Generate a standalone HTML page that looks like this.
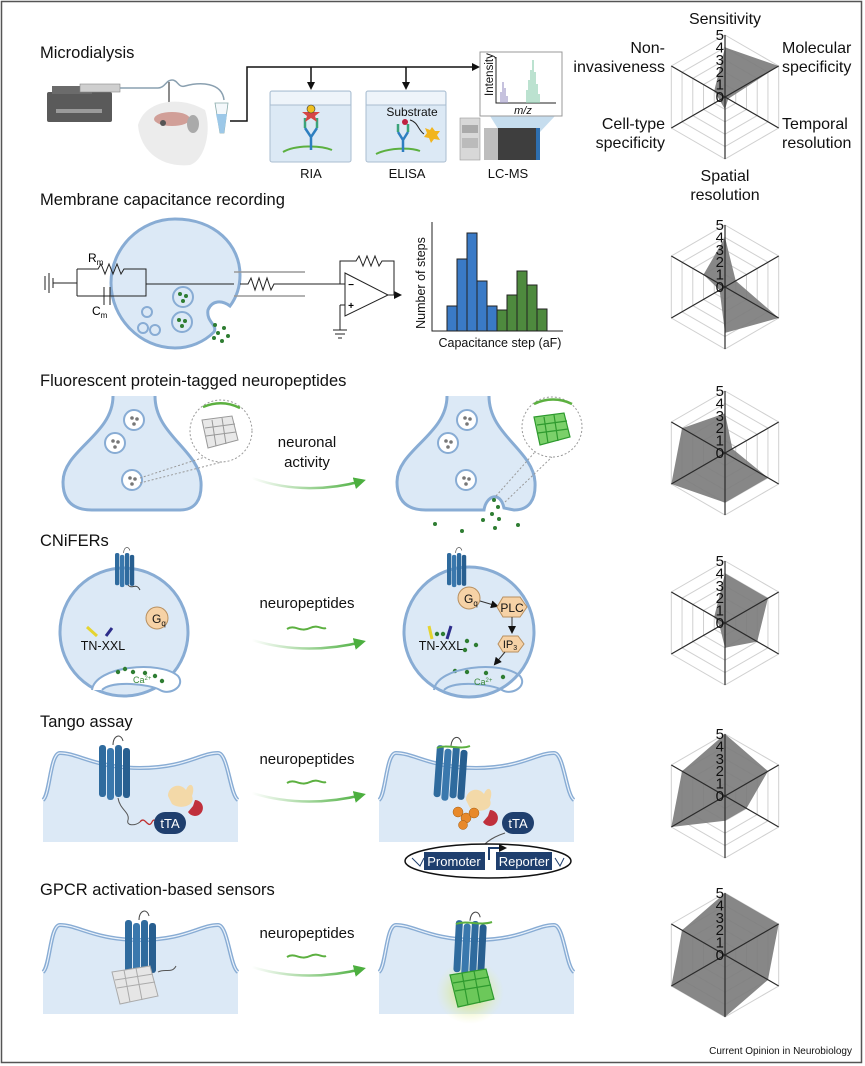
<!DOCTYPE html>
<html><head><meta charset="utf-8"><style>
html,body{margin:0;padding:0;background:#fff}
svg{display:block;font-family:"Liberation Sans",Arial,sans-serif}
</style></head><body>
<svg width="865" height="1066" viewBox="0 0 865 1066" xmlns="http://www.w3.org/2000/svg">
<defs>
<linearGradient id="ga" x1="0" x2="1" y1="0" y2="0"><stop offset="0" stop-color="#4caf3f" stop-opacity="0"/><stop offset="1" stop-color="#4caf3f"/></linearGradient>
<radialGradient id="glow"><stop offset="0" stop-color="#c8e04a" stop-opacity="0.9"/><stop offset="1" stop-color="#e8f0a0" stop-opacity="0"/></radialGradient>
<marker id="ah" markerWidth="8" markerHeight="8" refX="6" refY="4" orient="auto" markerUnits="userSpaceOnUse"><path d="M0,0 L8,4 L0,8 Z" fill="#111"/></marker>
<marker id="gh" markerWidth="12" markerHeight="12" refX="8" refY="6" orient="auto" markerUnits="userSpaceOnUse"><path d="M0,0 L12,6 L0,12 Z" fill="#4caf3f"/></marker>
<g id="rec">
<rect x="0" y="0" width="7" height="52" rx="3" fill="#2f6b9e"/>
<rect x="8" y="3" width="7" height="52" rx="3" fill="#3a78ad"/>
<rect x="16" y="0" width="7" height="52" rx="3" fill="#2f6b9e"/>
<rect x="24" y="3" width="7" height="50" rx="3" fill="#285f90"/>
<path d="M14,0 C14,-10 22,-12 24,-4" fill="none" stroke="#444" stroke-width="1"/>
</g>
<g id="grid">
<g fill="none" stroke="#d0d0d0" stroke-width="1">
<polygon points="0,-12.4 10.74,-6.2 10.74,6.2 0,12.4 -10.74,6.2 -10.74,-6.2"/>
<polygon points="0,-24.8 21.48,-12.4 21.48,12.4 0,24.8 -21.48,12.4 -21.48,-12.4"/>
<polygon points="0,-37.2 32.22,-18.6 32.22,18.6 0,37.2 -32.22,18.6 -32.22,-18.6"/>
<polygon points="0,-49.6 42.95,-24.8 42.95,24.8 0,49.6 -42.95,24.8 -42.95,-24.8"/>
<polygon points="0,-62 53.69,-31 53.69,31 0,62 -53.69,31 -53.69,-31"/>
</g>
</g>
<g id="axes" stroke="#2a2a2a" stroke-width="1.2">
<line x1="0" y1="-62" x2="0" y2="62"/><line x1="-53.69" y1="-31" x2="53.69" y2="31"/><line x1="53.69" y1="-31" x2="-53.69" y2="31"/>
</g>
<g id="nums" font-size="15" text-anchor="end" fill="#111">
<text x="-1" y="-57">5</text><text x="-1" y="-44.6">4</text><text x="-1" y="-32.2">3</text><text x="-1" y="-19.8">2</text><text x="-1" y="-7.4">1</text><text x="-1" y="5">0</text>
</g>
<g id="panel">
<path d="M43,800 C50,795 50,753 60,753 C78,753 95,768 140,768 C185,768 200,753 218,753 C228,753 230,795 238,800 L238,842 L43,842 Z" fill="#dce9f6"/>
<path d="M43,800 C50,795 50,753 60,753 C78,753 95,768 140,768 C185,768 200,753 218,753 C228,753 230,795 238,800" fill="none" stroke="#88acd4" stroke-width="4"/>
<path d="M43,800 C50,795 50,753 60,753 C78,753 95,768 140,768 C185,768 200,753 218,753 C228,753 230,795 238,800" fill="none" stroke="#eaf2fb" stroke-width="1.2"/>
</g>
</defs>
<rect x="1.5" y="1.5" width="860" height="1061" fill="none" stroke="#555" stroke-width="1.5"/>

<!-- Titles -->
<g font-size="16.5" fill="#111">
<text x="40" y="58">Microdialysis</text>
<text x="40" y="205">Membrane capacitance recording</text>
<text x="40" y="386">Fluorescent protein-tagged neuropeptides</text>
<text x="40" y="546">CNiFERs</text>
<text x="40" y="727">Tango assay</text>
<text x="40" y="895">GPCR activation-based sensors</text>
</g>

<!-- ===== Microdialysis ===== -->
<rect x="47" y="92" width="65" height="30" rx="2" fill="#5a5a5a"/>
<rect x="52" y="86" width="40" height="8" fill="#6b6b6b"/>
<rect x="80" y="84" width="40" height="8" fill="#cfcfcf" stroke="#888" stroke-width="0.6"/>
<rect x="56" y="109" width="46" height="4" fill="#9a9a9a"/>
<path d="M120,88 L158,88 C165,88 166,80 172,80 C178,80 178,88 185,86 C200,82 222,82 224,100" fill="none" stroke="#8aa0b0" stroke-width="1.5"/>
<line x1="169" y1="82" x2="169" y2="108" stroke="#666" stroke-width="1.5"/>
<path d="M138,125 C145,100 180,95 205,110 C212,130 205,160 190,165 C160,168 140,150 138,125Z" fill="#ececec"/>
<ellipse cx="172" cy="119" rx="18" ry="7" fill="#d19f98"/>
<ellipse cx="193" cy="124" rx="6" ry="9" fill="#aaa"/>
<circle cx="163" cy="123" r="3" fill="#555"/>
<path d="M215,103 L228,103 L224,133 L220,133 Z" fill="#f4f8fb" stroke="#8aa" stroke-width="0.8"/>
<path d="M216,114 L227,114 L224,133 L220,133 Z" fill="#9cc8e8"/>
<path d="M230,121 L247,121 L247,67 L478,67" fill="none" stroke="#111" stroke-width="1.5" marker-end="url(#ah)"/>
<line x1="311" y1="67" x2="311" y2="88" stroke="#111" stroke-width="1.5" marker-end="url(#ah)"/>
<line x1="406" y1="67" x2="406" y2="88" stroke="#111" stroke-width="1.5" marker-end="url(#ah)"/>
<rect x="270" y="91" width="81" height="71" rx="2" fill="#dce9f5" stroke="#aabdd0"/>
<rect x="271" y="92" width="79" height="13" fill="#eef4fa"/>
<line x1="270" y1="105" x2="351" y2="105" stroke="#aabdd0"/>
<path d="M283,152 C295,145 320,145 332,150" fill="none" stroke="#5cb040" stroke-width="2"/>
<path d="M311,150 L311,137 M311,137 L305,128 M311,137 L317,128" stroke="#2e7fc0" stroke-width="2.5" fill="none"/>
<path d="M305,128 L305,118 M317,128 L317,118" stroke="#3aa37a" stroke-width="2.5"/>
<path d="M311,106 L314,112 L320,112 L315,116 L317,122 L311,118 L305,122 L307,116 L302,112 L308,112Z" fill="#d64545"/>
<circle cx="311" cy="109" r="4" fill="#f0c020" stroke="#333" stroke-width="0.6"/>
<text x="311" y="178" font-size="13" text-anchor="middle" fill="#111">RIA</text>
<rect x="366" y="91" width="80" height="71" rx="2" fill="#dce9f5" stroke="#aabdd0"/>
<rect x="367" y="92" width="78" height="13" fill="#eef4fa"/>
<line x1="366" y1="105" x2="446" y2="105" stroke="#aabdd0"/>
<text x="412" y="116" font-size="12" text-anchor="middle" fill="#111">Substrate</text>
<path d="M376,154 C388,148 410,147 420,151" fill="none" stroke="#5cb040" stroke-width="2"/>
<path d="M403,152 L403,140 L398,132 M403,140 L408,132" stroke="#2e7fc0" stroke-width="2.5" fill="none"/>
<path d="M398,132 L398,124 M408,132 L408,124" stroke="#3aa37a" stroke-width="2.5"/>
<circle cx="405" cy="122" r="3" fill="#c02040"/>
<path d="M410,120 C418,122 418,130 424,134" fill="none" stroke="#222" stroke-width="1"/>
<path d="M432,127 L435,131 L440,131 L437,135 L440,140 L434,139 L431,143 L429,138 L424,137 L427,133 L425,128 L430,130Z" fill="#f2b51c"/>
<text x="407" y="178" font-size="13" text-anchor="middle" fill="#111">ELISA</text>
<path d="M490,116 L555,116 L540,132 L500,132 Z" fill="#b8d4ea" opacity="0.8"/>
<rect x="460" y="118" width="20" height="42" fill="#d8d8d8" stroke="#999" stroke-width="0.6"/>
<rect x="462" y="125" width="16" height="8" fill="#aaa"/>
<rect x="462" y="138" width="16" height="10" fill="#bbb"/>
<rect x="484" y="128" width="56" height="32" fill="#3e3e3e"/>
<rect x="484" y="128" width="14" height="32" fill="#bdbdbd"/>
<rect x="536" y="128" width="4" height="32" fill="#2e6fb0"/>
<rect x="480" y="52" width="82" height="64" fill="#fff" stroke="#999"/>
<path d="M496,57 L496,103 L556,103" fill="none" stroke="#222" stroke-width="1"/>
<text transform="translate(493,96) rotate(-90)" font-size="11.5" fill="#111">Intensity</text>
<text x="523" y="114" font-size="11" font-style="italic" text-anchor="middle" fill="#111">m/z</text>
<g stroke="#a09ac8" stroke-width="1.2"><line x1="501" y1="103" x2="501" y2="92"/><line x1="503" y1="103" x2="503" y2="82"/><line x1="505" y1="103" x2="505" y2="88"/><line x1="507" y1="103" x2="507" y2="96"/></g>
<g stroke="#8fcfb0" stroke-width="1.2"><line x1="527" y1="103" x2="527" y2="90"/><line x1="529" y1="103" x2="529" y2="80"/><line x1="531" y1="103" x2="531" y2="70"/><line x1="533" y1="103" x2="533" y2="60"/><line x1="535" y1="103" x2="535" y2="72"/><line x1="537" y1="103" x2="537" y2="84"/><line x1="539" y1="103" x2="539" y2="94"/></g>
<text x="508" y="178" font-size="13" text-anchor="middle" fill="#111">LC-MS</text>

<!-- ===== Membrane capacitance ===== -->
<path d="M175,219 C215,219 240,245 240,275 C240,288 236,298 230,306 C222,300 212,300 208,310 C206,322 218,325 214,332 C204,342 190,348 175,348 C140,348 111,318 111,283 C111,248 140,219 175,219Z" fill="#dce9f6" stroke="#88acd4" stroke-width="3"/>
<g fill="none" stroke="#222" stroke-width="1">
<line x1="45" y1="276" x2="45" y2="290"/><line x1="49" y1="273" x2="49" y2="293"/><line x1="53" y1="278" x2="53" y2="288"/>
<path d="M53,283 L77,283 M77,269 L77,296 M77,269 L98,269 L101,264 L105,274 L109,264 L113,274 L117,264 L121,274 L124,269 L146,269 L146,296 L77,296 M77,296 L104,296 M104,287 L104,305 M110,287 L110,305 M110,296 L146,296 M146,284 L234,284"/>
<path d="M234,272 L305,272 M234,296 L305,296" stroke="#999" stroke-width="1.5"/>
<path d="M240,284 L248,284 L251,278 L255,290 L259,278 L263,290 L267,278 L271,290 L274,284 L345,284"/>
<path d="M345,273 L345,316 L388,295 Z" fill="#fff"/>
<path d="M388,295 L400,295" marker-end="url(#ah)"/>
<path d="M340,305 L345,305 M340,305 L340,330 M333,330 L347,330 M335,334 L345,334 M338,338 L342,338"/>
<path d="M340,284 L340,261 L356,261 L359,256 L363,266 L367,256 L371,266 L375,256 L379,266 L382,261 L394,261 L394,295"/>
</g>
<text x="351" y="288" font-size="10" text-anchor="middle" font-weight="bold">−</text>
<text x="351" y="309" font-size="10" text-anchor="middle" font-weight="bold">+</text>
<text x="88" y="262" font-size="12">R<tspan font-size="8" dy="3">m</tspan></text>
<text x="92" y="315" font-size="12">C<tspan font-size="8" dy="3">m</tspan></text>
<g fill="none" stroke="#88acd4" stroke-width="2">
<circle cx="183" cy="297" r="10"/><circle cx="182" cy="322" r="10"/>
<circle cx="147" cy="312" r="5"/><circle cx="143" cy="328" r="5"/><circle cx="155" cy="330" r="5"/>
</g>
<g fill="#2e7d32"><circle cx="180" cy="294" r="2"/><circle cx="186" cy="296" r="2"/><circle cx="183" cy="301" r="2"/><circle cx="179" cy="320" r="2"/><circle cx="185" cy="321" r="2"/><circle cx="182" cy="326" r="2"/>
<circle cx="215" cy="325" r="2"/><circle cx="224" cy="328" r="2"/><circle cx="218" cy="333" r="2"/><circle cx="228" cy="336" r="2"/><circle cx="214" cy="338" r="2"/><circle cx="222" cy="341" r="2"/></g>
<g stroke="#222" stroke-width="1">
<rect x="447" y="306" width="10" height="25" fill="#3a7ac6"/><rect x="457" y="259" width="10" height="72" fill="#3a7ac6"/><rect x="467" y="233" width="10" height="98" fill="#3a7ac6"/><rect x="477" y="281" width="10" height="50" fill="#3a7ac6"/><rect x="487" y="306" width="10" height="25" fill="#3a7ac6"/>
<rect x="497" y="310" width="10" height="21" fill="#4e8a3e"/><rect x="507" y="295" width="10" height="36" fill="#4e8a3e"/><rect x="517" y="271" width="10" height="60" fill="#4e8a3e"/><rect x="527" y="285" width="10" height="46" fill="#4e8a3e"/><rect x="537" y="309" width="10" height="22" fill="#4e8a3e"/>
<path d="M432,222 L432,331 L563,331" fill="none"/>
</g>
<text transform="translate(425,283) rotate(-90)" font-size="12.5" text-anchor="middle" fill="#111">Number of steps</text>
<text x="500" y="347" font-size="12.5" text-anchor="middle" fill="#111">Capacitance step (aF)</text>

<!-- ===== Fluorescent protein ===== -->
<path d="M113,396 C113,435 63,450 63,482 C63,500 72,510 92,510 L180,510 C195,510 202,500 201,482 C199,450 155,435 155,396" fill="#dce9f6" stroke="#88acd4" stroke-width="3"/>
<g fill="#fff" stroke="#88acd4" stroke-width="2"><circle cx="134" cy="420" r="10"/><circle cx="115" cy="443" r="10"/><circle cx="132" cy="480" r="10"/>
<circle cx="467" cy="420" r="10"/><circle cx="448" cy="443" r="10"/><circle cx="466" cy="480" r="10"/></g>
<g fill="#777"><circle cx="132" cy="418" r="1.8"/><circle cx="137" cy="419" r="1.8"/><circle cx="134" cy="424" r="1.8"/><circle cx="113" cy="441" r="1.8"/><circle cx="118" cy="442" r="1.8"/><circle cx="115" cy="447" r="1.8"/><circle cx="130" cy="478" r="1.8"/><circle cx="135" cy="479" r="1.8"/><circle cx="132" cy="484" r="1.8"/>
<circle cx="465" cy="418" r="1.8"/><circle cx="470" cy="419" r="1.8"/><circle cx="467" cy="424" r="1.8"/><circle cx="446" cy="441" r="1.8"/><circle cx="451" cy="442" r="1.8"/><circle cx="448" cy="447" r="1.8"/><circle cx="464" cy="478" r="1.8"/><circle cx="469" cy="479" r="1.8"/><circle cx="466" cy="484" r="1.8"/></g>
<circle cx="221" cy="431" r="31" fill="#fff" stroke="#999" stroke-dasharray="2,2"/>
<line x1="140" y1="478" x2="205" y2="457" stroke="#999" stroke-dasharray="2,2"/>
<line x1="140" y1="483" x2="222" y2="462" stroke="#999" stroke-dasharray="2,2"/>
<path d="M203,407 C215,402 228,402 240,408" stroke="#5cb040" stroke-width="2.5" fill="none"/>
<g stroke="#999" fill="#e8e8e8" stroke-width="1"><path d="M202,420 L232,416 L238,440 L208,448 Z"/><path d="M205,428 L235,424 M206,436 L236,432 M212,420 L216,446 M222,418 L226,444" fill="none"/></g>
<text x="307" y="447" font-size="15" text-anchor="middle" fill="#111">neuronal</text>
<text x="307" y="467" font-size="15" text-anchor="middle" fill="#111">activity</text>
<path d="M252,478 C290,492 330,490 362,481" fill="none" stroke="url(#ga)" stroke-width="2.5" marker-end="url(#gh)"/>
<path d="M447,396 C447,435 397,450 397,482 C397,500 406,510 426,510 L484,510 C486,496 500,490 504,508 L514,510 C529,510 536,500 535,482 C533,450 489,435 489,396" fill="#dce9f6" stroke="#88acd4" stroke-width="3"/>
<g fill="#fff" stroke="#88acd4" stroke-width="2"><circle cx="467" cy="420" r="10"/><circle cx="448" cy="443" r="10"/><circle cx="466" cy="480" r="10"/></g>
<g fill="#777"><circle cx="465" cy="418" r="1.8"/><circle cx="470" cy="419" r="1.8"/><circle cx="467" cy="424" r="1.8"/><circle cx="446" cy="441" r="1.8"/><circle cx="451" cy="442" r="1.8"/><circle cx="448" cy="447" r="1.8"/><circle cx="464" cy="478" r="1.8"/><circle cx="469" cy="479" r="1.8"/><circle cx="466" cy="484" r="1.8"/></g>
<circle cx="552" cy="427" r="30" fill="#fff" stroke="#999" stroke-dasharray="2,2"/>
<line x1="496" y1="496" x2="535" y2="452" stroke="#999" stroke-dasharray="2,2"/>
<line x1="505" y1="502" x2="552" y2="457" stroke="#999" stroke-dasharray="2,2"/>
<path d="M534,404 C546,398 560,398 572,404" stroke="#5cb040" stroke-width="2.5" fill="none"/>
<g stroke="#2e9a2e" fill="#7bd06a" stroke-width="1.2"><path d="M534,417 L564,413 L570,437 L540,445 Z"/><path d="M537,425 L567,421 M538,433 L568,429 M544,417 L548,443 M554,415 L558,441" fill="none"/></g>
<g fill="#2e7d32"><circle cx="494" cy="500" r="2"/><circle cx="498" cy="507" r="2"/><circle cx="492" cy="514" r="2"/><circle cx="499" cy="519" r="2"/><circle cx="483" cy="520" r="2"/><circle cx="495" cy="528" r="2"/><circle cx="518" cy="525" r="2"/><circle cx="435" cy="524" r="2"/><circle cx="462" cy="531" r="2"/></g>

<!-- ===== CNiFERs ===== -->
<circle cx="124" cy="632" r="64" fill="#dce9f6" stroke="#88acd4" stroke-width="3"/>
<use href="#rec" transform="translate(115,553) scale(0.62,0.62)"/>
<path d="M128,585 C132,590 136,582 140,590" stroke="#444" fill="none"/>
<circle cx="157" cy="618" r="11" fill="#f6d2a6" stroke="#b89060"/>
<text x="152" y="623" font-size="12" fill="#111">G<tspan font-size="8" dy="3">q</tspan></text>
<path d="M87,627 L97,636" stroke="#e5d430" stroke-width="3"/>
<path d="M106,636 L112,628" stroke="#2c2c8a" stroke-width="3"/>
<text x="103" y="650" font-size="12.5" text-anchor="middle" fill="#111">TN-XXL</text>
<path d="M92,690 C95,666 160,660 178,676 C186,686 170,696 160,690 C150,684 112,680 102,690" fill="#fff" stroke="#88acd4" stroke-width="2"/>
<g fill="#2e7d32"><circle cx="118" cy="672" r="2.2"/><circle cx="125" cy="669" r="2.2"/><circle cx="133" cy="672" r="2.2"/><circle cx="145" cy="673" r="2.2"/><circle cx="155" cy="676" r="2.2"/><circle cx="162" cy="681" r="2.2"/></g>
<text x="133" y="683" font-size="9" fill="#3a8a3a">Ca<tspan font-size="6" dy="-3">2+</tspan></text>
<text x="307" y="608" font-size="15" text-anchor="middle" fill="#111">neuropeptides</text>
<path d="M287,629 C295,624 300,633 310,628 C318,624 322,630 326,628" stroke="#5cb040" stroke-width="2" fill="none"/>
<path d="M252,640 C290,652 330,650 362,642" fill="none" stroke="url(#ga)" stroke-width="2.5" marker-end="url(#gh)"/>
<circle cx="469" cy="632" r="65" fill="#dce9f6" stroke="#88acd4" stroke-width="3"/>
<use href="#rec" transform="translate(447,553) scale(0.62,0.62)"/>
<circle cx="469" cy="598" r="11" fill="#f6d2a6" stroke="#b89060"/>
<text x="464" y="603" font-size="12" fill="#111">G<tspan font-size="8" dy="3">q</tspan></text>
<path d="M480,601 L497,606" stroke="#333" marker-end="url(#ah)"/>
<path d="M503,597 L520,597 L527,607 L520,617 L503,617 L497,607Z" fill="#f6d2a6" stroke="#b89060"/>
<text x="512" y="612" font-size="12" text-anchor="middle" fill="#111">PLC</text>
<path d="M512,617 L512,632" stroke="#333" marker-end="url(#ah)"/>
<path d="M503,636 L518,636 L524,644 L518,652 L503,652 L498,644Z" fill="#f6d2a6" stroke="#b89060"/>
<text x="510" y="648" font-size="11" text-anchor="middle" fill="#111">IP<tspan font-size="7" dy="2">3</tspan></text>
<path d="M505,652 L495,664" stroke="#333" marker-end="url(#ah)"/>
<path d="M429,626 L432,639" stroke="#e5d430" stroke-width="3"/>
<path d="M451,626 L447,639" stroke="#2c2c8a" stroke-width="3"/>
<g fill="#2e7d32"><circle cx="437" cy="634" r="2.2"/><circle cx="443" cy="634" r="2.2"/><circle cx="467" cy="641" r="2.2"/><circle cx="476" cy="645" r="2.2"/><circle cx="465" cy="650" r="2.2"/><circle cx="455" cy="671" r="2.2"/><circle cx="467" cy="672" r="2.2"/><circle cx="486" cy="673" r="2.2"/><circle cx="503" cy="677" r="2.2"/></g>
<text x="441" y="650" font-size="12.5" text-anchor="middle" fill="#111">TN-XXL</text>
<path d="M434,690 C437,666 502,660 520,676 C528,686 512,696 502,690 C492,684 454,680 444,690" fill="none" stroke="#88acd4" stroke-width="2"/>
<text x="474" y="685" font-size="9" fill="#3a8a3a">Ca<tspan font-size="6" dy="-3">2+</tspan></text>

<!-- ===== Tango ===== -->
<use href="#panel"/>
<use href="#rec" transform="translate(99,745)"/>
<path d="M118,798 C120,810 130,812 128,820 C126,826 135,826 140,822" stroke="#555" fill="none"/>
<path d="M140,822 C145,815 148,830 152,822 C155,816 157,826 160,823" stroke="#c03030" fill="none" stroke-width="1.3"/>
<rect x="154" y="812" width="32" height="22" rx="11" fill="#1f3f6e"/>
<text x="170" y="828" font-size="13" text-anchor="middle" fill="#fff">tTA</text>
<path d="M168,796 C168,786 180,782 186,790 C190,780 196,786 192,796 C196,806 180,810 172,804 Z" fill="#f3d9a8"/>
<path d="M195,800 A8,8 0 1 1 188,812 L193,806 Z" fill="#c0303c"/>
<text x="307" y="764" font-size="15" text-anchor="middle" fill="#111">neuropeptides</text>
<path d="M287,783 C295,778 300,787 310,782 C318,778 322,784 326,782" stroke="#5cb040" stroke-width="2" fill="none"/>
<path d="M252,793 C290,805 330,803 362,795" fill="none" stroke="url(#ga)" stroke-width="2.5" marker-end="url(#gh)"/>
<use href="#panel" transform="translate(336,0)"/>
<use href="#rec" transform="translate(437,745) rotate(4)"/>
<path d="M437,748 C447,744 460,750 470,746" stroke="#5cb040" stroke-width="2" fill="none"/>
<path d="M466,800 C466,790 478,786 484,794 C488,784 494,790 490,800 C494,810 478,814 470,808 Z" fill="#f3d9a8"/>
<g fill="#e8892a" stroke="#a05a10" stroke-width="0.5"><circle cx="458" cy="812" r="5"/><circle cx="466" cy="818" r="5"/><circle cx="474" cy="813" r="5"/><circle cx="463" cy="825" r="4.5"/></g>
<path d="M490,810 A8,8 0 1 1 483,822 L488,816 Z" fill="#c0303c"/>
<rect x="502" y="812" width="32" height="22" rx="11" fill="#1f3f6e"/>
<text x="518" y="828" font-size="13" text-anchor="middle" fill="#fff">tTA</text>
<path d="M505,833 C490,838 482,845 480,852" stroke="#555" fill="none" marker-end="url(#ah)"/>
<ellipse cx="488" cy="861" rx="83" ry="17" fill="#fff" stroke="#111" stroke-width="1.5"/>
<rect x="424" y="852" width="61" height="18" fill="#1f3f6e"/>
<rect x="496" y="852" width="56" height="18" fill="#1f3f6e"/>
<text x="454" y="866" font-size="13" text-anchor="middle" fill="#fff">Promoter</text>
<text x="524" y="866" font-size="13" text-anchor="middle" fill="#fff">Reporter</text>
<path d="M489,860 L489,848 L505,848" stroke="#1f3f6e" stroke-width="2" fill="none" marker-end="url(#ah)"/>
<path d="M412,858 L420,866 L424,858 M555,858 L560,866 L564,858" stroke="#1f3f6e" fill="none"/>

<!-- ===== GPCR sensors ===== -->
<use href="#panel" transform="translate(0,172)"/>
<use href="#rec" transform="translate(125,920)"/>
<g stroke="#aaa" fill="#e6e6e6" stroke-width="1"><path d="M112,972 L150,966 L158,996 L120,1004 Z"/><path d="M115,980 L153,974 M117,988 L155,982 M124,970 L130,1002 M136,968 L142,1000" fill="none"/></g>
<path d="M158,972 C165,968 172,974 176,966" stroke="#555" fill="none"/>
<text x="307" y="938" font-size="15" text-anchor="middle" fill="#111">neuropeptides</text>
<path d="M287,957 C295,952 300,961 310,956 C318,952 322,958 326,956" stroke="#5cb040" stroke-width="2" fill="none"/>
<path d="M252,967 C290,979 330,977 362,969" fill="none" stroke="url(#ga)" stroke-width="2.5" marker-end="url(#gh)"/>
<use href="#panel" transform="translate(336,172)"/>
<ellipse cx="470" cy="992" rx="34" ry="32" fill="url(#glow)"/>
<use href="#rec" transform="translate(456,920) rotate(3)"/>
<path d="M456,924 C466,920 480,926 492,922" stroke="#5cb040" stroke-width="2" fill="none"/>
<g stroke="#2e9a2e" fill="#6cc85a" stroke-width="1.2"><path d="M450,975 L486,969 L494,999 L458,1007 Z"/><path d="M453,983 L489,977 M455,991 L491,985 M462,973 L468,1005 M474,971 L480,1003" fill="none"/></g>

<!-- ===== Radar charts ===== -->
<g transform="translate(725,97)">
<use href="#grid"/>
<polygon points="0,-49.6 53.69,-31 3.2,1.9 0,12.4 -5.4,3.1 -10.74,-6.2" fill="#7a7a7a" fill-opacity="0.9"/>
<use href="#axes"/><use href="#nums"/>
</g>
<g transform="translate(725,287)">
<use href="#grid"/>
<polygon points="0,-49.6 10.74,-6.2 53.69,31 0,45.9 -5.4,3.1 -21.48,-12.4" fill="#7a7a7a" fill-opacity="0.9"/>
<use href="#axes"/><use href="#nums"/>
</g>
<g transform="translate(725,453)">
<use href="#grid"/>
<polygon points="0,-39.7 7.4,-4.3 42.95,24.8 0,49.6 -53.69,31 -42.95,-24.8" fill="#7a7a7a" fill-opacity="0.9"/>
<use href="#axes"/><use href="#nums"/>
</g>
<g transform="translate(725,623)">
<use href="#grid"/>
<polygon points="0,-49.6 42.95,-24.8 32.22,18.6 0,24.8 -5.4,3.1 -10.74,-6.2" fill="#7a7a7a" fill-opacity="0.9"/>
<use href="#axes"/><use href="#nums"/>
</g>
<g transform="translate(725,796)">
<use href="#grid"/>
<polygon points="0,-62 42.95,-24.8 21.48,12.4 0,24.8 -53.69,31 -42.95,-24.8" fill="#7a7a7a" fill-opacity="0.9"/>
<use href="#axes"/><use href="#nums"/>
</g>
<g transform="translate(725,955)">
<use href="#grid"/>
<polygon points="0,-62 53.69,-31 42.95,24.8 0,62 -53.69,31 -42.95,-24.8" fill="#7a7a7a" fill-opacity="0.9"/>
<use href="#axes"/><use href="#nums"/>
</g>

<g font-size="16" fill="#111">
<text x="725" y="24" text-anchor="middle">Sensitivity</text>
<text x="782" y="53">Molecular</text><text x="782" y="72">specificity</text>
<text x="665" y="53" text-anchor="end">Non-</text><text x="665" y="72" text-anchor="end">invasiveness</text>
<text x="665" y="129" text-anchor="end">Cell-type</text><text x="665" y="148" text-anchor="end">specificity</text>
<text x="782" y="129">Temporal</text><text x="782" y="148">resolution</text>
<text x="725" y="181" text-anchor="middle">Spatial</text><text x="725" y="200" text-anchor="middle">resolution</text>
</g>
<text x="852" y="1054" font-size="10" text-anchor="end" fill="#111">Current Opinion in Neurobiology</text>
</svg>
</body></html>
